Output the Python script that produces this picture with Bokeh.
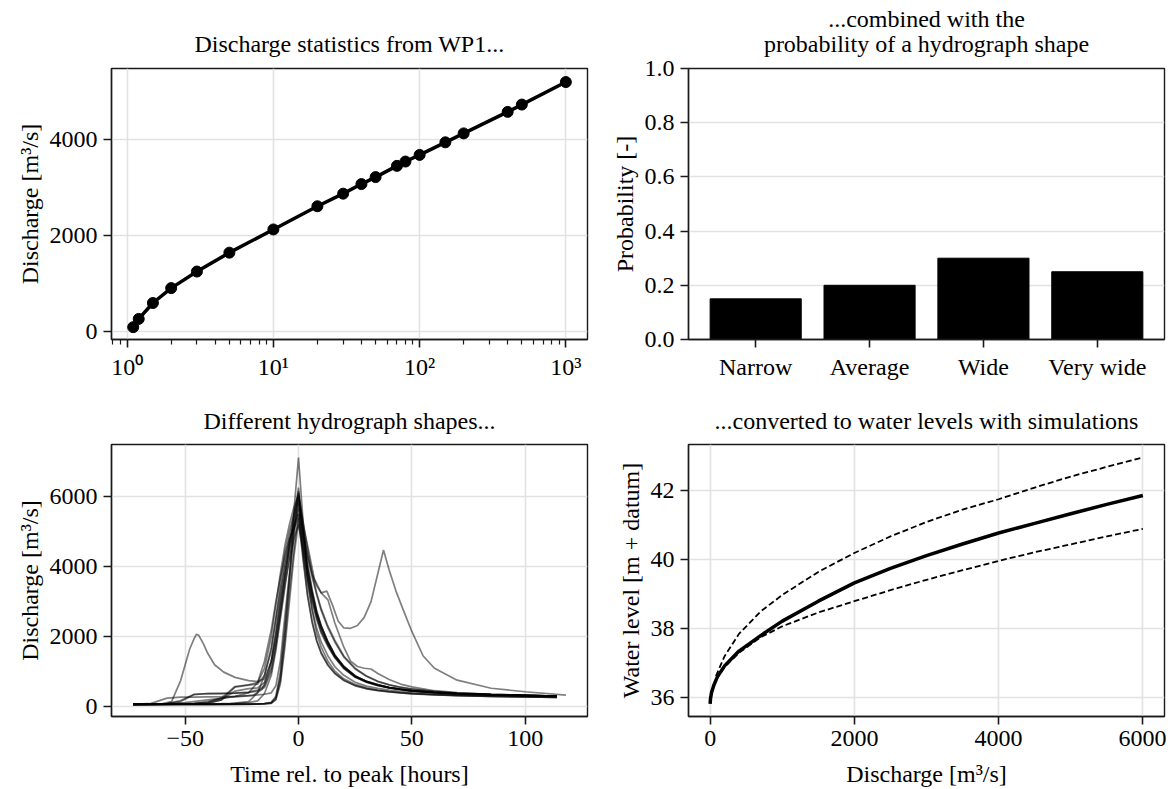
from bokeh.plotting import figure
from bokeh.layouts import column, row
from bokeh.models import Range1d, FixedTicker, Title, PrintfTickFormatter
from bokeh.embed import file_html
from bokeh.resources import INLINE

# ---------------- data ----------------
# Panel 1: discharge statistics (return period [years] vs discharge)
return_period = [1.1, 1.2, 1.5, 2, 3, 5, 10, 20, 30, 40, 50, 70, 80, 100, 150, 200, 400, 500, 1000]
discharge_stat = [90, 262, 593, 903, 1248, 1641, 2124, 2607, 2869, 3069, 3214, 3448, 3538, 3676,
                  3938, 4124, 4572, 4724, 5193]
log_tick_values = [1, 10, 100, 1000]
log_tick_labels = ["10⁰", "10¹", "10²", "10³"]

# Panel 2: probability of hydrograph shape
shape_names = ["Narrow", "Average", "Wide", "Very wide"]
shape_prob = [0.15, 0.20, 0.30, 0.25]

# Panel 3: hydrographs (time relative to peak [h], discharge [m3/s])
t_common = [-73, -65, -58, -52, -46, -40, -34, -28, -22, -18, -15, -12, -10, -8, -6, -4, -2, 0,
            2, 4, 6, 8, 10, 13, 16, 20, 25, 30, 35, 40, 45, 50, 60, 70, 85, 100, 114]
h01_q = [70, 70, 70, 70, 70, 72, 75, 78, 82, 88, 95, 120, 260, 850, 2100, 3600, 5600, 7110,
         5300, 3700, 2750, 2100, 1700, 1300, 1020, 800, 640, 540, 480, 440, 410, 385, 350, 325, 300, 285, 270]
h02_q = [70, 75, 90, 150, 350, 380, 380, 390, 420, 480, 600, 1100, 1800, 2700, 3700, 4600, 5400, 6250,
         5000, 4000, 3300, 2700, 2300, 1850, 1480, 1150, 880, 730, 630, 555, 505, 465, 415, 380, 350, 328, 308]
h03_q = [70, 70, 70, 70, 70, 70, 72, 75, 80, 85, 95, 130, 300, 1000, 2300, 3700, 5000, 6150,
         4900, 3900, 3200, 2650, 2250, 1800, 1450, 1130, 870, 720, 620, 550, 500, 460, 410, 375, 345, 325, 305]
h04_q = [70, 75, 80, 90, 100, 130, 250, 580, 630, 700, 1100, 2000, 2900, 3800, 4600, 5200, 5700, 6050,
         5300, 4500, 3800, 3250, 2800, 2300, 1900, 1450, 1100, 880, 730, 630, 560, 510, 440, 395, 355, 330, 310]
h05_q = [70, 70, 72, 75, 80, 85, 90, 100, 120, 170, 380, 900, 1600, 2500, 3400, 4300, 5100, 5950,
         4300, 3200, 2450, 1900, 1550, 1200, 960, 760, 610, 520, 470, 430, 400, 375, 345, 320, 300, 285, 270]
h06_q = [70, 100, 250, 280, 280, 285, 290, 300, 320, 340, 360, 400, 600, 1300, 2600, 3800, 4900, 5800,
         4800, 3850, 3150, 2600, 2200, 1780, 1430, 1120, 860, 715, 615, 548, 498, 458, 410, 375, 345, 325, 305]
h07_q = [70, 70, 75, 80, 90, 110, 200, 450, 520, 540, 700, 1300, 2100, 3000, 3800, 4500, 5100, 5650,
         5000, 4300, 3700, 3200, 2750, 2250, 1850, 1420, 1080, 870, 720, 625, 555, 505, 438, 393, 355, 330, 310]
h08_q = [70, 70, 70, 70, 70, 70, 70, 72, 75, 80, 90, 110, 220, 750, 1900, 3300, 4500, 5500,
         4600, 3700, 3050, 2550, 2150, 1750, 1420, 1100, 850, 705, 610, 540, 495, 455, 405, 372, 342, 322, 302]
h09_q = [70, 72, 75, 80, 90, 150, 250, 300, 400, 700, 1300, 2200, 3000, 3700, 4300, 4800, 5100, 5380,
         4200, 3150, 2400, 1880, 1520, 1180, 950, 750, 600, 515, 465, 425, 398, 372, 342, 318, 298, 283, 268]
h10_q = [70, 70, 70, 70, 70, 70, 70, 70, 72, 75, 80, 100, 200, 650, 1700, 3000, 4300, 5280,
         4500, 3650, 3000, 2500, 2100, 1720, 1400, 1090, 845, 700, 605, 538, 492, 452, 402, 370, 340, 320, 300]
h11_q = [70, 75, 90, 180, 360, 380, 385, 390, 410, 450, 550, 1000, 1700, 2600, 3500, 4200, 4800, 5200,
         4400, 3500, 2800, 2250, 1850, 1450, 1150, 900, 700, 590, 525, 480, 445, 420, 380, 350, 325, 305, 290]
h12_q = [70, 72, 75, 80, 85, 100, 200, 560, 620, 650, 900, 1600, 2500, 3500, 4400, 5000, 5500, 6000,
         5100, 4100, 3350, 2750, 2320, 1850, 1480, 1150, 880, 725, 625, 552, 502, 462, 412, 377, 347, 327, 307]
# hydrograph with an earlier flood peak
hA_t = [-73, -65, -60, -56, -52, -48, -46, -45, -44, -42, -40, -37, -33, -28, -22, -18, -15, -12, -10, -8,
        -6, -4, -2, 0, 2, 4, 6, 8, 10, 13, 16, 20, 25, 30, 40, 50, 60, 70, 85, 100, 114]
hA_q = [70, 75, 90, 150, 750, 1650, 1950, 2070, 2040, 1800, 1520, 1200, 990, 840, 750, 720, 800, 1300, 2100, 3100,
        4000, 4700, 5200, 5500, 4700, 3900, 3250, 2700, 2300, 1850, 1480, 1150, 880, 725, 550, 465, 415, 380, 350, 328, 308]
# hydrograph with a later second flood peak
hB_t = [-73, -60, -50, -40, -30, -22, -18, -15, -12, -10, -8, -6, -4, -2, 0, 2, 4, 7, 10, 12.5,
        15, 17.5, 20, 23, 26, 29, 32, 35, 37.5, 40, 43, 46, 50, 55, 60, 70, 85, 100, 118]
hB_q = [70, 72, 75, 80, 90, 150, 400, 900, 1700, 2500, 3300, 4100, 4800, 5500, 6100, 5200, 4600, 3650, 3250, 3300,
        2900, 2450, 2250, 2240, 2320, 2550, 3000, 3800, 4470, 3900, 3300, 2800, 2150, 1450, 1100, 760, 530, 430, 335]
# hydrograph with a shoulder on the falling limb
hC_t = [-73, -60, -50, -40, -30, -25, -20, -16, -13, -10, -8, -6, -4, -2, 0, 2, 4, 6, 8, 10,
        13, 16, 20, 23, 26, 29, 32, 35, 40, 45, 50, 60, 70, 85, 100, 114]
hC_q = [70, 80, 120, 200, 280, 300, 330, 500, 1000, 1900, 2800, 3700, 4600, 5300, 5900, 5000, 4300, 3800, 3450, 3250,
        3050, 2400, 1700, 1300, 1150, 1100, 1080, 950, 780, 650, 570, 460, 410, 360, 330, 300]

# Panel 4: discharge -> water level
rating_q = [0, 5, 20, 50, 100, 200, 400, 700, 1000, 1500, 2000, 2500, 3000, 3500, 4000, 4500, 5000, 5500, 6000]
level_mean = [35.82, 35.97, 36.15, 36.35, 36.6, 36.92, 37.35, 37.8, 38.22, 38.8, 39.33, 39.75, 40.12,
              40.46, 40.78, 41.06, 41.34, 41.61, 41.87]
band_q = [80, 100, 200, 400, 700, 1000, 1500, 2000, 2500, 3000, 3500, 4000, 4500, 5000, 5500, 6000]
level_upper = [36.62, 36.72, 37.2, 37.85, 38.5, 38.98, 39.65, 40.2, 40.68, 41.1, 41.46, 41.76, 42.1, 42.42, 42.7, 42.97]
level_lower = [36.52, 36.57, 36.88, 37.3, 37.75, 38.07, 38.47, 38.8, 39.12, 39.42, 39.7, 39.97, 40.22, 40.45, 40.68, 40.9]

# ---------------- styling helpers ----------------
FONT = "Liberation Serif"
FS = "24px"
DARK = "#1a1a1a"


def make_fig(xr, yr, left, right, top, bottom, fh, x_type="linear"):
    p = figure(x_range=xr, y_range=yr, x_axis_type=x_type, frame_width=476, frame_height=fh,
               min_border_left=left, min_border_right=right, min_border_top=top,
               min_border_bottom=bottom, output_backend="svg", toolbar_location=None)
    p.outline_line_color = DARK
    p.outline_line_width = 1.4
    p.background_fill_color = "white"
    p.border_fill_color = "white"
    for ax in p.axis:
        ax.axis_line_color = DARK
        ax.axis_line_width = 1.4
        ax.major_tick_line_color = DARK
        ax.major_tick_line_width = 1.6
        ax.major_tick_out = 8
        ax.major_tick_in = 0
        ax.minor_tick_line_color = None
        ax.major_label_text_font = FONT
        ax.major_label_text_font_size = FS
        ax.major_label_text_color = "black"
        ax.axis_label_text_font = FONT
        ax.axis_label_text_font_size = FS
        ax.axis_label_text_font_style = "normal"
        ax.axis_label_text_color = "black"
        ax.major_label_standoff = 6
        ax.axis_label_standoff = 4
    p.grid.grid_line_color = "#e2e2e2"
    p.grid.grid_line_width = 1.6
    return p


def add_title(p, text, standoff):
    p.add_layout(Title(text=text, align="center", text_font=FONT, text_font_size=FS,
                       text_font_style="normal", text_color="black", standoff=standoff), "above")


# ---------------- panel 1 ----------------
p1 = make_fig(Range1d(10 ** -0.107, 10 ** 3.148), Range1d(-167, 5475), 111, 5, 68, 46, 271, x_type="log")
add_title(p1, "Discharge statistics from WP1...", 24)
p1.line(return_period, discharge_stat, line_color="black", line_width=3.5)
p1.scatter(return_period, discharge_stat, size=11, color="black")
minor = [0.8, 0.9] + [m * 10 ** d for d in range(3) for m in range(2, 10)]
p1.xaxis.ticker = FixedTicker(ticks=log_tick_values, minor_ticks=minor)
p1.xaxis.major_label_overrides = dict(zip(log_tick_values, log_tick_labels))
p1.xaxis.minor_tick_line_color = DARK
p1.xaxis.minor_tick_line_width = 1.2
p1.xaxis.minor_tick_out = 5
p1.xaxis.minor_tick_in = 0
p1.yaxis.ticker = FixedTicker(ticks=[0, 2000, 4000])
p1.yaxis.axis_label = "Discharge [m³/s]"

# ---------------- panel 2 ----------------
xs = list(range(len(shape_names)))
p2 = make_fig(Range1d(-0.59, 3.59), Range1d(0, 1), 96, 2, 68, 46, 271)
add_title(p2, "probability of a hydrograph shape", 24)
add_title(p2, "...combined with the", -30)
p2.vbar(x=xs, top=shape_prob, width=0.8, color="black")
p2.xaxis.ticker = FixedTicker(ticks=xs)
p2.xaxis.major_label_overrides = {i: n for i, n in zip(xs, shape_names)}
p2.yaxis.ticker = FixedTicker(ticks=[0, 0.2, 0.4, 0.6, 0.8, 1.0])
p2.yaxis.formatter = PrintfTickFormatter(format="%.1f")
p2.yaxis.axis_label = "Probability [-]"
p2.xgrid.visible = False

# ---------------- panel 3 ----------------
p3 = make_fig(Range1d(-82.5, 127.5), Range1d(-275, 7480), 111, 5, 59, 72, 272)
add_title(p3, "Different hydrograph shapes...", 22)
for q in [h01_q, h02_q, h03_q, h04_q, h05_q, h06_q, h07_q, h08_q, h09_q, h10_q, h11_q, h12_q]:
    p3.line(t_common, q, line_color="black", line_alpha=0.5, line_width=1.7)
for t, q in [(hA_t, hA_q), (hB_t, hB_q), (hC_t, hC_q)]:
    p3.line(t, q, line_color="black", line_alpha=0.5, line_width=1.7)
p3.xaxis.ticker = FixedTicker(ticks=[-50, 0, 50, 100])
p3.xaxis.major_label_overrides = {-50: "−50"}
p3.yaxis.ticker = FixedTicker(ticks=[0, 2000, 4000, 6000])
p3.xaxis.axis_label = "Time rel. to peak [hours]"
p3.yaxis.axis_label = "Discharge [m³/s]"
p3.xaxis.axis_label_standoff = 12

# ---------------- panel 4 ----------------
p4 = make_fig(Range1d(-300, 6300), Range1d(35.45, 43.35), 96, 2, 59, 72, 272)
add_title(p4, "...converted to water levels with simulations", 22)
p4.line(band_q, level_upper, line_color="black", line_width=1.8, line_dash="6 3")
p4.line(band_q, level_lower, line_color="black", line_width=1.8, line_dash="6 3")
p4.line(rating_q, level_mean, line_color="black", line_width=3.5)
p4.xaxis.ticker = FixedTicker(ticks=[0, 2000, 4000, 6000])
p4.yaxis.ticker = FixedTicker(ticks=[36, 38, 40, 42])
p4.xaxis.axis_label = "Discharge [m³/s]"
p4.yaxis.axis_label = "Water level [m + datum]"
p4.xaxis.axis_label_standoff = 12

layout = column(row(p1, p2), row(p3, p4))
open("out.html", "w").write(file_html(layout, INLINE))
